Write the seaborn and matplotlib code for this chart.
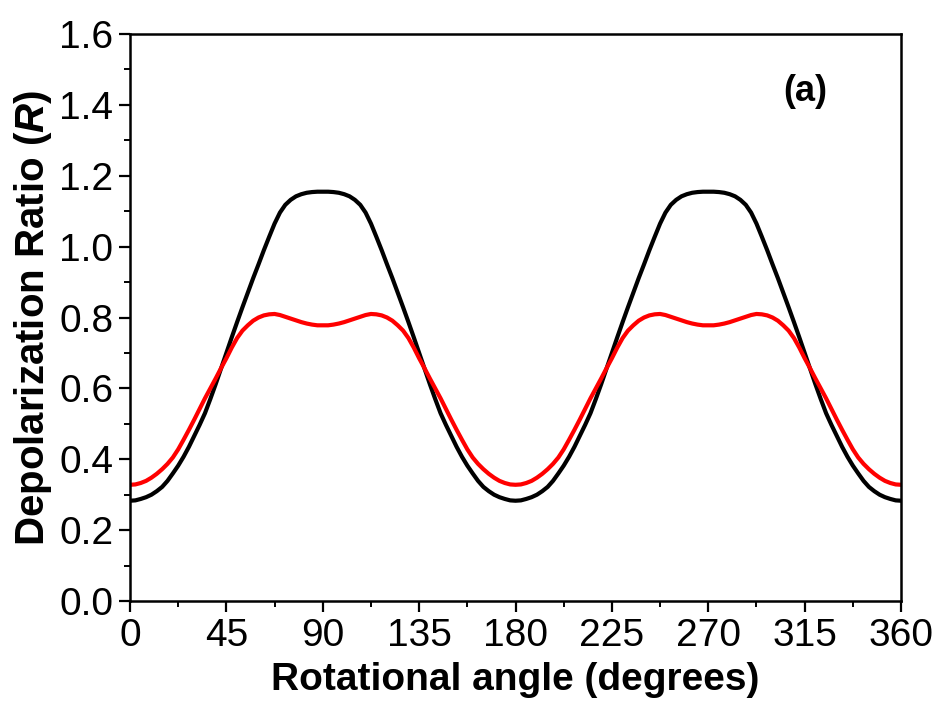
import matplotlib
matplotlib.use("Agg")
import matplotlib.pyplot as plt
import seaborn as sns
import pandas as pd
from matplotlib.ticker import MultipleLocator

# Data (every 2.5 degrees)
angle = [i * 2.5 for i in range(145)]
black_R = [
    0.283, 0.284, 0.288, 0.293, 0.300, 0.310, 0.322, 0.339, 0.360, 0.382, 0.407, 0.435, 0.466,
    0.497, 0.530, 0.570, 0.612, 0.656, 0.700, 0.744, 0.787, 0.829, 0.870, 0.911, 0.950, 0.990,
    1.028, 1.065, 1.096, 1.118, 1.132, 1.142, 1.148, 1.152, 1.154, 1.155, 1.155,
    1.155, 1.154, 1.152, 1.148, 1.142, 1.132, 1.118, 1.096, 1.065, 1.028, 0.990, 0.950, 0.911,
    0.870, 0.829, 0.787, 0.744, 0.700, 0.656, 0.612, 0.570, 0.530, 0.497, 0.466, 0.435, 0.407,
    0.382, 0.360, 0.339, 0.322, 0.310, 0.300, 0.293, 0.288, 0.284, 0.283,
    0.284, 0.288, 0.293, 0.300, 0.310, 0.322, 0.339, 0.360, 0.382, 0.407, 0.435, 0.466,
    0.497, 0.530, 0.570, 0.612, 0.656, 0.700, 0.744, 0.787, 0.829, 0.870, 0.911, 0.950, 0.990,
    1.028, 1.065, 1.096, 1.118, 1.132, 1.142, 1.148, 1.152, 1.154, 1.155, 1.155,
    1.155, 1.154, 1.152, 1.148, 1.142, 1.132, 1.118, 1.096, 1.065, 1.028, 0.990, 0.950, 0.911,
    0.870, 0.829, 0.787, 0.744, 0.700, 0.656, 0.612, 0.570, 0.530, 0.497, 0.466, 0.435, 0.407,
    0.382, 0.360, 0.339, 0.322, 0.310, 0.300, 0.293, 0.288, 0.284, 0.283,
]
red_R = [
    0.328, 0.329, 0.333, 0.339, 0.348, 0.359, 0.372, 0.387, 0.405, 0.428, 0.455, 0.483, 0.512,
    0.542, 0.572, 0.600, 0.628, 0.657, 0.685, 0.715, 0.742, 0.763, 0.778, 0.791, 0.800, 0.806,
    0.809, 0.810, 0.807, 0.802, 0.797, 0.792, 0.787, 0.783, 0.780, 0.778, 0.778,
    0.778, 0.780, 0.783, 0.787, 0.792, 0.797, 0.802, 0.807, 0.810, 0.809, 0.806, 0.800, 0.791,
    0.778, 0.763, 0.742, 0.715, 0.685, 0.657, 0.628, 0.600, 0.572, 0.542, 0.512, 0.483, 0.455,
    0.428, 0.405, 0.387, 0.372, 0.359, 0.348, 0.339, 0.333, 0.329, 0.328,
    0.329, 0.333, 0.339, 0.348, 0.359, 0.372, 0.387, 0.405, 0.428, 0.455, 0.483, 0.512,
    0.542, 0.572, 0.600, 0.628, 0.657, 0.685, 0.715, 0.742, 0.763, 0.778, 0.791, 0.800, 0.806,
    0.809, 0.810, 0.807, 0.802, 0.797, 0.792, 0.787, 0.783, 0.780, 0.778, 0.778,
    0.778, 0.780, 0.783, 0.787, 0.792, 0.797, 0.802, 0.807, 0.810, 0.809, 0.806, 0.800, 0.791,
    0.778, 0.763, 0.742, 0.715, 0.685, 0.657, 0.628, 0.600, 0.572, 0.542, 0.512, 0.483, 0.455,
    0.428, 0.405, 0.387, 0.372, 0.359, 0.348, 0.339, 0.333, 0.329, 0.328,
]
x_ticks = [0, 45, 90, 135, 180, 225, 270, 315, 360]
y_ticks = [0.0, 0.2, 0.4, 0.6, 0.8, 1.0, 1.2, 1.4, 1.6]

sns.set_style("ticks")
plt.rcParams['font.family'] = ['Liberation Sans', 'DejaVu Sans']
plt.rcParams['mathtext.fontset'] = 'custom'
plt.rcParams['mathtext.it'] = 'Liberation Sans:italic:bold'
plt.rcParams['mathtext.rm'] = 'Liberation Sans:bold'
plt.rcParams['text.color'] = 'black'
plt.rcParams['axes.labelcolor'] = 'black'
plt.rcParams['xtick.color'] = 'black'
plt.rcParams['ytick.color'] = 'black'

df = pd.DataFrame({'angle': angle, 'black': black_R, 'red': red_R})

fig = plt.figure(figsize=(9.38, 7.07), dpi=100)
ax = fig.add_axes([0.1386, 0.1499, 0.8220, 0.8020])

sns.lineplot(data=df, x='angle', y='black', ax=ax, color='black', linewidth=3.0)
sns.lineplot(data=df, x='angle', y='red', ax=ax, color='#ff0000', linewidth=3.0)

ax.set_xlim(0, 360)
ax.set_ylim(0, 1.6)
ax.set_xticks(x_ticks)
ax.set_yticks(y_ticks)
ax.set_xticklabels([str(v) for v in x_ticks])
ax.set_yticklabels([f"{v:.1f}" for v in y_ticks])
ax.xaxis.set_minor_locator(MultipleLocator(22.5))
ax.yaxis.set_minor_locator(MultipleLocator(0.1))

for s in ax.spines.values():
    s.set_visible(True)
    s.set_linewidth(1.8)
    s.set_color('black')

ax.tick_params(axis='both', which='major', direction='out', length=8, width=1.6,
               labelsize=28, labelcolor='black', top=False, right=False)
ax.tick_params(axis='both', which='minor', direction='out', length=4, width=1.4,
               top=False, right=False)
ax.tick_params(axis='x', which='major', pad=4)
ax.tick_params(axis='y', which='major', pad=4)

ax.set_xlabel('Rotational angle (degrees)', fontsize=28, fontweight='bold', labelpad=6,
              color='black')
ax.set_ylabel(r'Depolarization Ratio ($\mathit{R}$)', fontsize=29, fontweight='bold',
              labelpad=4, color='black')

ax.text(0.876, 0.898, '(a)', transform=ax.transAxes, fontsize=26, fontweight='bold',
        ha='center', va='center', color='black')

fig.savefig('out.png', dpi=100)
